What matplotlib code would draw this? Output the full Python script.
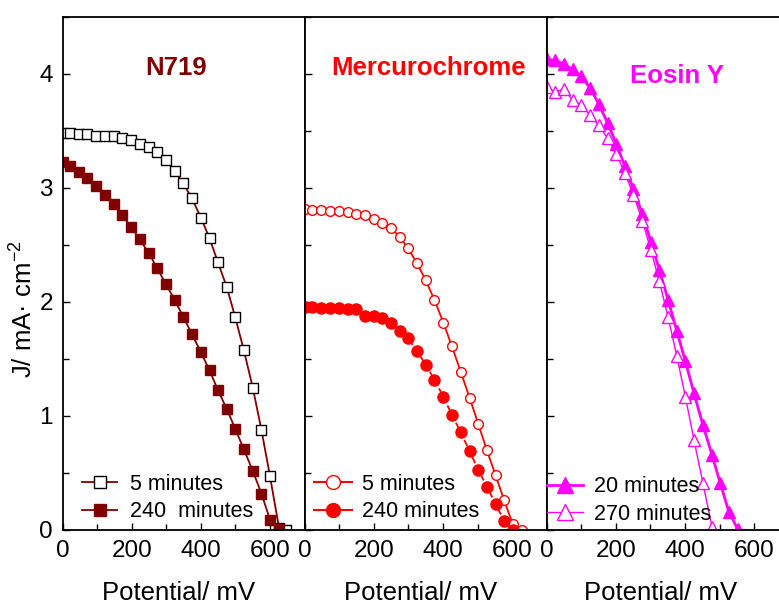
import matplotlib
matplotlib.use('Agg')
import matplotlib.pyplot as plt
from matplotlib.lines import Line2D
from matplotlib.ticker import MultipleLocator

plt.rcParams['font.family'] = ['Liberation Sans', 'DejaVu Sans']
plt.rcParams['mathtext.default'] = 'regular'

# N719 data (potential in mV, J in mA/cm2)
n719_v5 = [0, 21, 47, 72, 97, 123, 148, 173, 198, 223, 249, 273, 298, 324, 349,
           374, 400, 425, 449, 475, 499, 524, 550, 575, 600, 626, 645]
n719_j5 = [3.48, 3.48, 3.47, 3.47, 3.46, 3.46, 3.46, 3.44, 3.42, 3.39, 3.36, 3.32, 3.25, 3.15, 3.04,
           2.91, 2.74, 2.56, 2.35, 2.13, 1.87, 1.58, 1.25, 0.88, 0.47, 0.02, 0.0]
n719_v240 = [0, 21, 47, 72, 97, 123, 148, 173, 198, 223, 249, 273, 298, 324, 349,
             374, 400, 425, 449, 475, 499, 524, 550, 575, 600, 626]
n719_j240 = [3.23, 3.19, 3.14, 3.09, 3.02, 2.94, 2.86, 2.76, 2.66, 2.55, 2.43, 2.30, 2.16, 2.02, 1.87,
             1.72, 1.56, 1.40, 1.23, 1.06, 0.89, 0.71, 0.52, 0.32, 0.09, 0.01]

# Mercurochrome data
merc_v5 = [0, 22, 48, 73, 98, 124, 149, 175, 200, 224, 250, 275, 299, 325, 350,
           375, 401, 426, 451, 477, 502, 527, 552, 577, 602, 628]
merc_j5 = [2.82, 2.81, 2.81, 2.80, 2.80, 2.79, 2.77, 2.76, 2.73, 2.69, 2.65, 2.57, 2.47, 2.34, 2.19,
           2.02, 1.82, 1.61, 1.39, 1.16, 0.93, 0.70, 0.48, 0.26, 0.05, 0.0]
merc_v240 = [0, 22, 48, 73, 98, 124, 149, 175, 200, 224, 250, 275, 299, 325, 350,
             375, 401, 426, 451, 477, 502, 527, 552, 577, 602]
merc_j240 = [1.96, 1.96, 1.95, 1.95, 1.95, 1.94, 1.94, 1.88, 1.88, 1.86, 1.82, 1.75, 1.68, 1.57, 1.45,
             1.32, 1.17, 1.01, 0.86, 0.69, 0.53, 0.38, 0.23, 0.08, 0.0]

# Eosin Y data
eos_v20 = [0, 23, 49, 75, 99, 125, 150, 176, 201, 226, 251, 277, 301, 326, 351,
           376, 401, 426, 452, 478, 502, 527, 552]
eos_j20 = [4.13, 4.12, 4.09, 4.04, 3.98, 3.88, 3.74, 3.57, 3.39, 3.19, 2.99, 2.77, 2.53, 2.28, 2.02,
           1.75, 1.48, 1.20, 0.92, 0.66, 0.41, 0.16, 0.01]
eos_v270 = [0, 23, 49, 75, 99, 125, 150, 176, 201, 226, 251, 277, 301, 326, 351,
            376, 401, 426, 452, 478]
eos_j270 = [3.89, 3.84, 3.87, 3.77, 3.73, 3.64, 3.55, 3.44, 3.30, 3.13, 2.94, 2.71, 2.46, 2.18, 1.87,
            1.53, 1.17, 0.79, 0.41, 0.03]

dark_red = '#800000'
red = '#ff0000'
magenta = '#ff00ff'

W, H = 779, 605
fig = plt.figure(figsize=(W / 100, H / 100), dpi=100)


def make_ax(left, labels=False):
    ax = fig.add_axes([left / W, 1 - 530 / H, 242 / W, 513 / H])
    ax.set_xlim(0, 700)
    ax.set_ylim(0, 4.5)
    ax.set_xticks([0, 200, 400, 600])
    ax.xaxis.set_minor_locator(MultipleLocator(100))
    ax.set_yticks([0, 1, 2, 3, 4])
    ax.yaxis.set_minor_locator(MultipleLocator(0.5))
    ax.tick_params(which='both', direction='in', width=1, labelsize=17.5, pad=7)
    ax.tick_params(which='major', length=5)
    ax.tick_params(which='minor', length=4)
    ax.tick_params(axis='y', labelleft=labels)
    for s in ax.spines.values():
        s.set_linewidth(1.3)
    ax.set_xlabel('Potential/ mV', fontsize=18.5)
    ax.xaxis.set_label_coords(0.48, -0.1)
    return ax


def add_legend(ax, handles, labels, x, y, hl, pad):
    ax.legend(handles, labels, loc='lower left', bbox_to_anchor=(x, y),
              frameon=False, fontsize=15.5, handlelength=hl, handletextpad=pad,
              labelspacing=0.3, borderpad=0, borderaxespad=0)


# panel 1 - N719
ax1 = make_ax(62.6, labels=True)
ax1.plot(n719_v5, n719_j5, '-s', color=dark_red, lw=1.3, ms=7,
         mfc='white', mec='black', mew=1)
ax1.plot(n719_v240, n719_j240, '-s', color=dark_red, lw=1.3, ms=7,
         mfc=dark_red, mec=dark_red)
ax1.text(0.47, 0.9, 'N719', transform=ax1.transAxes, color=dark_red,
         fontsize=18.5, fontweight='bold', ha='center', va='center')
h1 = [Line2D([], [], color=dark_red, lw=1.3, marker='s', ms=9, mfc='white', mec='black', mew=1),
      Line2D([], [], color=dark_red, lw=1.3, marker='s', ms=9, mfc=dark_red, mec=dark_red)]
add_legend(ax1, h1, ['5 minutes', '240  minutes'], 0.08, 0.015, 1.65, 0.6)
ax1.set_ylabel('J/ mA· cm$^{-2}$', fontsize=18.5)
ax1.yaxis.set_label_coords(-0.105, 0.43)

# panel 2 - Mercurochrome
ax2 = make_ax(304.7)
ax2.plot(merc_v5, merc_j5, '-o', color=red, lw=1.3, ms=7, mfc='white', mec=red, mew=1)
ax2.plot(merc_v240, merc_j240, '--o', color=red, lw=1.3, ms=8, mfc=red, mec=red)
ax2.text(0.51, 0.9, 'Mercurochrome', transform=ax2.transAxes, color=red,
         fontsize=18.5, fontweight='bold', ha='center', va='center')
h2 = [Line2D([], [], color=red, lw=1.5, marker='o', ms=10, mfc='white', mec=red, mew=1),
      Line2D([], [], color=red, lw=1.5, marker='o', ms=10, mfc=red, mec=red)]
add_legend(ax2, h2, ['5 minutes', '240 minutes'], 0.04, 0.015, 1.75, 0.45)

# panel 3 - Eosin Y
ax3 = make_ax(546.7)
ax3.plot(eos_v20, eos_j20, '-^', color=magenta, lw=2, ms=8, mfc=magenta, mec=magenta)
ax3.plot(eos_v270, eos_j270, '-^', color=magenta, lw=1, ms=8, mfc='white', mec=magenta, mew=1)
ax3.text(0.54, 0.885, 'Eosin Y', transform=ax3.transAxes, color=magenta,
         fontsize=18.5, fontweight='bold', ha='center', va='center')
h3 = [Line2D([], [], color=magenta, lw=2, marker='^', ms=11, mfc=magenta, mec=magenta),
      Line2D([], [], color=magenta, lw=1, marker='^', ms=11, mfc='white', mec=magenta, mew=1)]
add_legend(ax3, h3, ['20 minutes', '270 minutes'], 0.0, 0.01, 1.7, 0.5)
ax3.xaxis.set_label_coords(0.47, -0.1)

fig.savefig('out.png', dpi=100)
